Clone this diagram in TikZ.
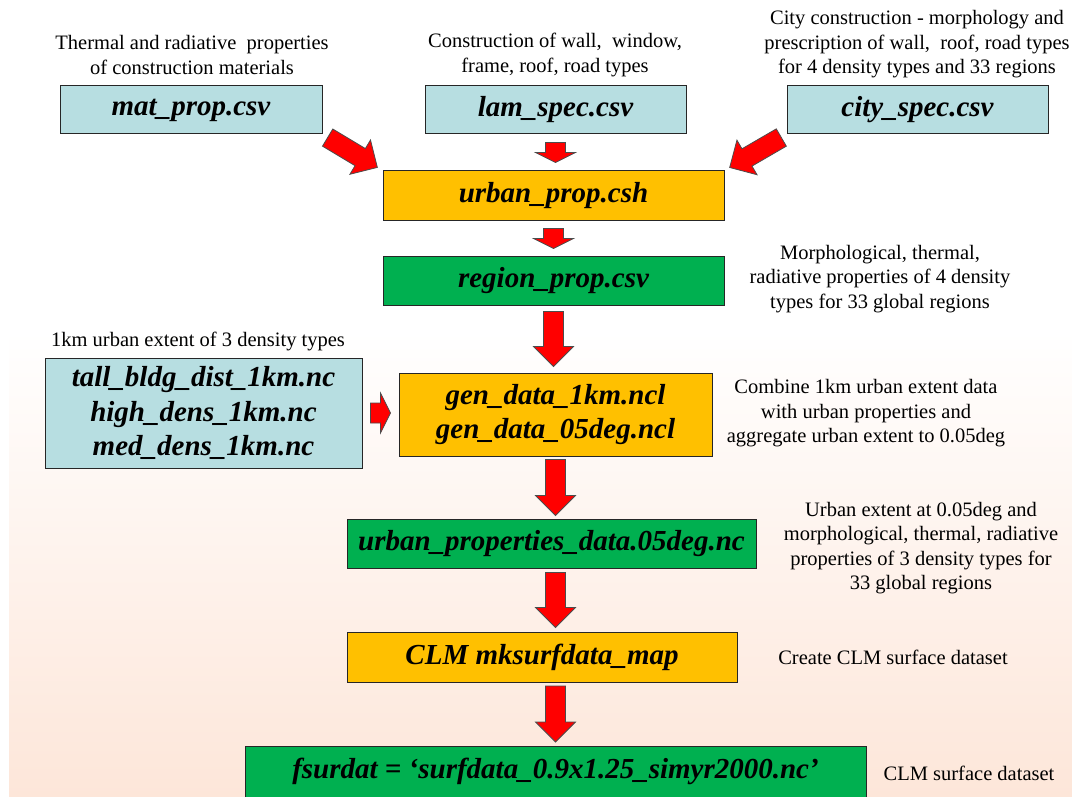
\documentclass[tikz,border=0pt]{standalone}
\usepackage{fontspec}
\setmainfont{Liberation Serif}
\usetikzlibrary{calc}

\definecolor{filebg}{RGB}{183,222,225}
\definecolor{scriptbg}{RGB}{255,192,0}
\definecolor{databg}{RGB}{0,176,80}
\definecolor{peach}{RGB}{253,230,217}

% block arrow between two anchors: [head length]{from}{to}{gap}
\newcommand{\fatarrow}[4][20]{%
  \coordinate (fa-s) at ($(#2)!#4pt!(#3)$);
  \coordinate (fa-t) at ($(#3)!#4pt!(#2)$);
  \coordinate (fa-b) at ($(fa-t)!#1pt!(fa-s)$);
  \filldraw[blockarrow]
    ($(fa-s)!10pt!90:(fa-t)$) -- ($(fa-b)!10pt!90:(fa-t)$) --
    ($(fa-b)!20pt!90:(fa-t)$) -- (fa-t) --
    ($(fa-b)!20pt!-90:(fa-t)$) -- ($(fa-b)!10pt!-90:(fa-t)$) --
    ($(fa-s)!10pt!-90:(fa-t)$) -- cycle;
}

\begin{document}
\begin{tikzpicture}[x=1pt, y=-1pt]
    \tikzset{
      box/.style={draw=black!85, line width=1pt, inner sep=0pt, align=center,
        font=\bfseries\itshape\fontsize{29}{34.5}\selectfont},
      infile/.style={box, fill=filebg},
      script/.style={box, fill=scriptbg},
      outfile/.style={box, fill=databg},
      note/.style={align=center, inner sep=0pt, font=\fontsize{20.5}{24.5}\selectfont},
      blockarrow/.style={fill=red, draw=black!70, line width=0.8pt},
    }
    \useasboundingbox (0,0) rectangle (1072,797);
    \shade[top color=white, bottom color=peach] (9,330) rectangle (1072,797);

    % inputs
    \node[infile, minimum width=262pt, minimum height=48pt] (mat) at (191,110) {mat\_prop.csv};
    \node[infile, minimum width=261pt, minimum height=48pt] (lam) at (555.5,110) {lam\_spec.csv};
    \node[infile, minimum width=261pt, minimum height=48pt] (city) at (917.5,110) {city\_spec.csv};
    \node[note] (matnote) at (192,55) {Thermal and radiative \ properties\\of construction materials};
    \node[note] (lamnote) at (555,55) {Construction of wall, \ window,\\frame, roof, road types};
    \node[note] (citynote) at (917,44.5) {City construction - morphology and\\prescription of wall, \ roof, road types\\for 4 density types and 33 regions};

    \node[script, minimum width=341pt, minimum height=50pt] (urban) at (553.5,196) {urban\_prop.csh};
    \node[outfile, minimum width=341pt, minimum height=49pt] (region) at (553.5,280.5) {region\_prop.csv};
    \node[note] (regionnote) at (880,279) {Morphological, thermal,\\radiative properties of 4 density\\types for 33 global regions};

    \node[infile, minimum width=317pt, minimum height=110pt] (tall) at (203.5,413) {tall\_bldg\_dist\_1km.nc\\high\_dens\_1km.nc\\med\_dens\_1km.nc};
    \node[note] (tallnote) at (198,341) {1km urban extent of 3 density types};
    \node[script, minimum width=313pt, minimum height=83pt] (gen) at (555.5,414.5) {gen\_data\_1km.ncl\\gen\_data\_05deg.ncl};
    \node[note] (gennote) at (866,413.5) {Combine 1km urban extent data\\with urban properties and\\aggregate urban extent to 0.05deg};

    \node[outfile, minimum width=409pt, minimum height=49pt] (urbprop) at (551.5,543.5) {urban\_properties\_data.05deg.nc};
    \node[note] (urbpropnote) at (921,548) {Urban extent at 0.05deg and\\morphological, thermal, radiative\\properties of 3 density types for\\33 global regions};

    \node[script, minimum width=390pt, minimum height=50pt] (clm) at (542,657) {CLM mksurfdata\_map};
    \node[note] (clmnote) at (893,657) {Create CLM surface dataset};
    \node[outfile, minimum width=621pt, minimum height=51pt] (fsurdat) at (555.5,771.5) {fsurdat = ‘surfdata\_0.9x1.25\_simyr2000.nc’};
    \node[note] (fsurdatnote) at (969,773) {CLM surface dataset};

    % arrows
    \fatarrow{mat.south east}{urban.north west}{6}
    \fatarrow{city.south west}{urban.north east}{6}
    \fatarrow[10]{lam.south}{lam.south |- urban.north}{8}
    \fatarrow[10]{urban.south}{urban.south |- region.north}{7}
    \fatarrow{region.south}{region.south |- gen.north}{6}
    \fatarrow[10]{tall.east}{tall.east -| gen.west}{8}
    \fatarrow{gen.south}{gen.south |- urbprop.north}{3}
    \fatarrow{gen.south |- urbprop.south}{gen.south |- clm.north}{4}
    \fatarrow{gen.south |- clm.south}{gen.south |- fsurdat.north}{3.5}
\end{tikzpicture}
\end{document}
